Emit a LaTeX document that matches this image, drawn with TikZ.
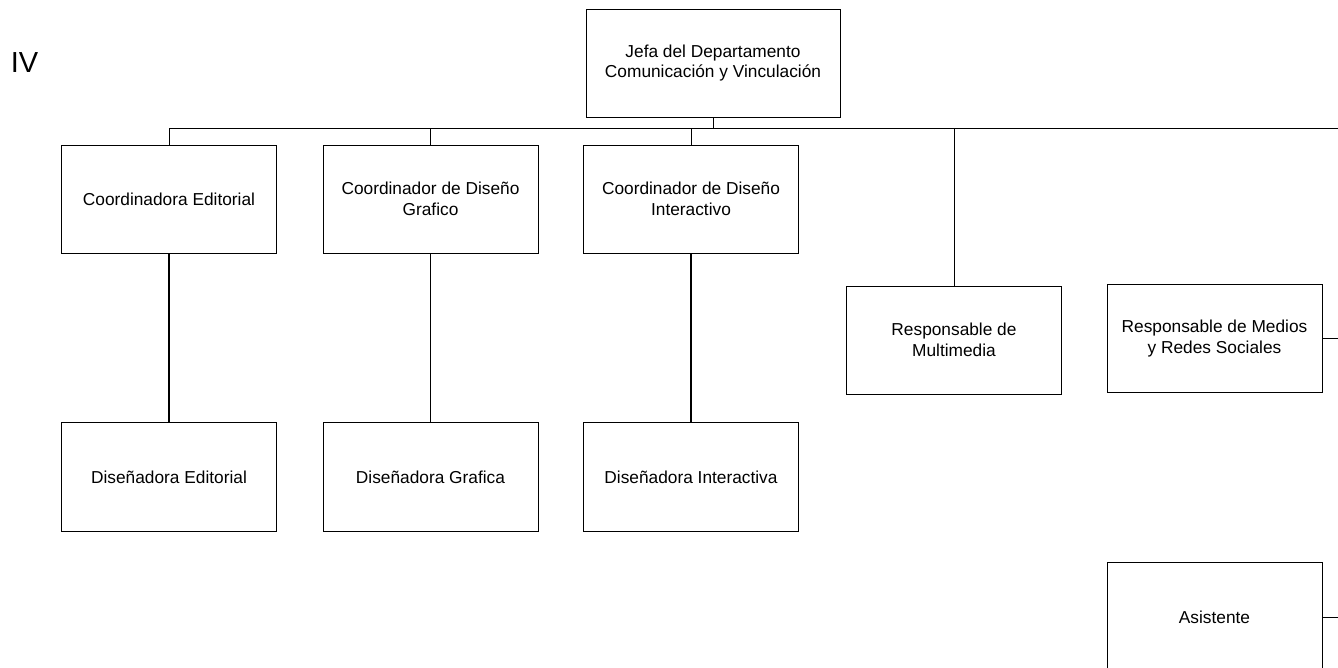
\documentclass[tikz,border=0pt]{standalone}
\usepackage{fontspec}
\setmainfont{Liberation Sans}
\usepackage{tikz}

\tikzset{
    cargo/.style = {draw, line width=0.9pt, minimum width=215pt, minimum height=108pt,
                    align=center, inner sep=2pt, font=\fontsize{17.3}{20.5}\selectfont},
    enlace/.style = {line width=0.9pt},
    enlacegrueso/.style = {line width=1.7pt}
}

\begin{document}
\begin{tikzpicture}[x=1pt, y=-1pt]
            \useasboundingbox (0,0) rectangle (1338,667);

            \node[font=\fontsize{29}{29}\selectfont] (nivel) at (24.5,63) {IV};

            \node[cargo, minimum width=254pt] (jefa) at (713,63) {Jefa del Departamento\\Comunicación y Vinculación};

            \node[cargo] (coordEd) at (169,199) {Coordinadora Editorial};
            \node[cargo] (coordDG) at (430.5,199) {Coordinador de Diseño\\Grafico};
            \node[cargo] (coordDI) at (691,199) {Coordinador de Diseño\\Interactivo};
            \node[cargo] (multi) at (954,340) {Responsable de\\Multimedia};
            \node[cargo] (medios) at (1214.5,338.5) {Responsable de Medios\\y Redes Sociales};

            \node[cargo, minimum height=109pt] (disEd) at (169,477) {Diseñadora Editorial};
            \node[cargo, minimum height=109pt] (disGr) at (430.5,477) {Diseñadora Grafica};
            \node[cargo, minimum height=109pt] (disIn) at (691,477) {Diseñadora Interactiva};

            \node[cargo, minimum height=110pt] (asist) at (1214.5,617) {Asistente};

            \coordinate (busR) at (1340,128);
            \coordinate (mediosR) at (1340,338.5);
            \coordinate (asistR) at (1340,617);

            \draw[enlace] (jefa.south) -- (jefa.south |- busR);
            \draw[enlace] (coordEd.north) |- (busR);
            \draw[enlace] (coordDG.north) -- (coordDG.north |- busR);
            \draw[enlace] (coordDI.north) -- (coordDI.north |- busR);
            \draw[enlace] (multi.north) -- (multi.north |- busR);

            \draw[enlacegrueso] (coordEd) -- (disEd);
            \draw[enlace] (coordDG) -- (disGr);
            \draw[enlacegrueso] (coordDI) -- (disIn);

            \draw[enlace] (medios.east) -- (mediosR);
            \draw[enlace] (asist.east) -- (asistR);

        \end{tikzpicture}
\end{document}
